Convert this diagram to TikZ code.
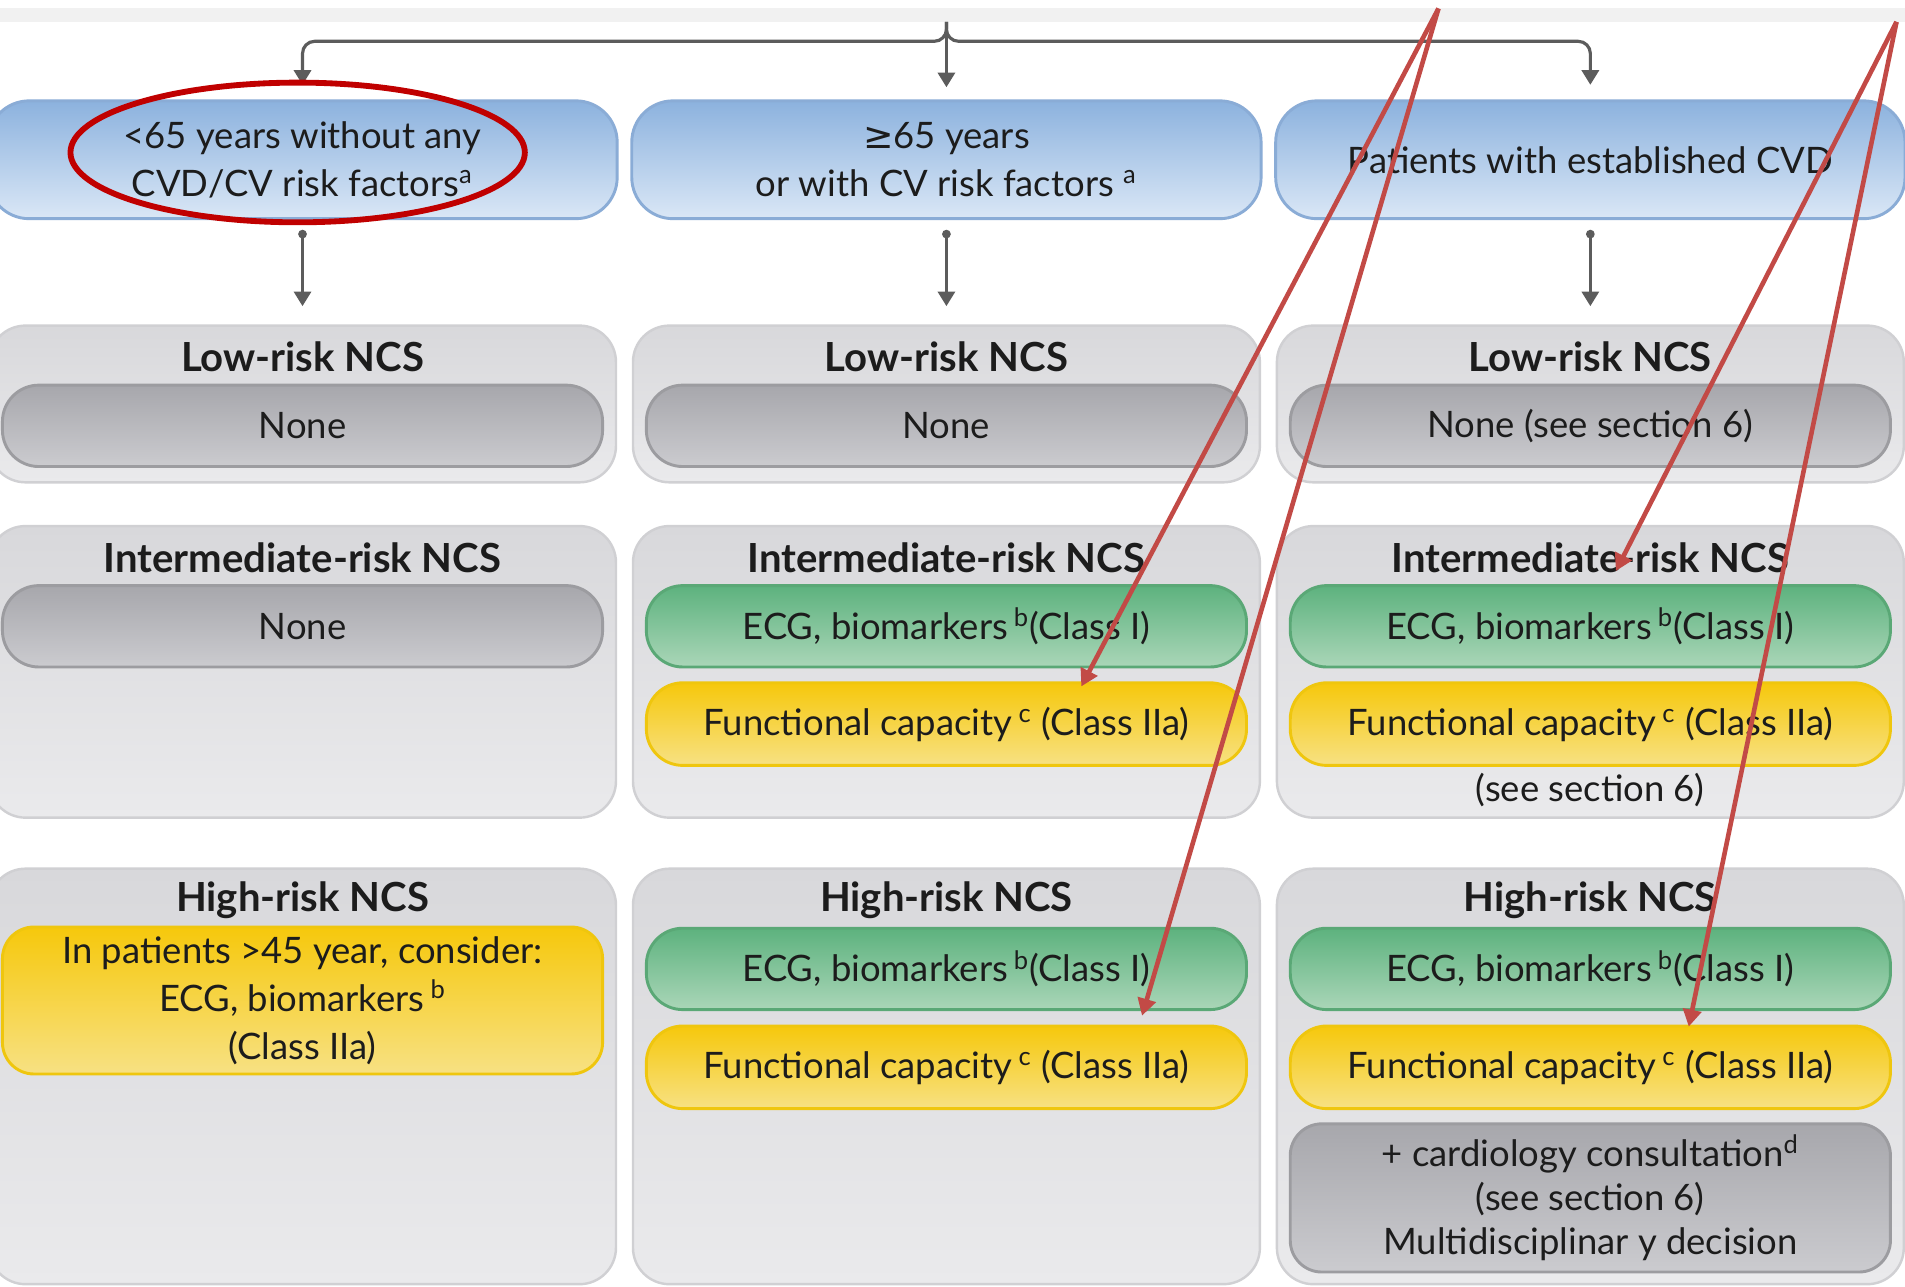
\documentclass[tikz,border=0pt]{standalone}
\usepackage{fontspec}
\setmainfont{Lato}
\newfontfamily\symfont{DejaVu Sans}
\usetikzlibrary{arrows.meta,shapes.geometric}
\definecolor{hdrTop}{HTML}{8CB2DE}
\definecolor{hdrBot}{HTML}{DAE7F6}
\definecolor{hdrLine}{HTML}{8AACD6}
\definecolor{panTop}{HTML}{D8D8DB}
\definecolor{panBot}{HTML}{EAEAEC}
\definecolor{panLine}{HTML}{D0D0D3}
\definecolor{gryTop}{HTML}{A7A7AC}
\definecolor{gryBot}{HTML}{CBCBCF}
\definecolor{gryLine}{HTML}{9C9CA0}
\definecolor{grnTop}{HTML}{5DB27E}
\definecolor{grnBot}{HTML}{AAD6B8}
\definecolor{grnLine}{HTML}{5AA876}
\definecolor{ylwTop}{HTML}{F6C80C}
\definecolor{ylwBot}{HTML}{F7E183}
\definecolor{ylwLine}{HTML}{EFC60E}
\definecolor{annRed}{HTML}{C24A46}
\definecolor{ellRed}{HTML}{C00000}
\definecolor{treeGray}{HTML}{5C5C5C}
\definecolor{txtCol}{HTML}{1C1C1C}
\definecolor{bandGray}{HTML}{F1F1F1}
\tikzset{
  basetext/.style={text=txtCol, align=center, font=\fontsize{15}{19.5}\selectfont},
  hdr/.style={basetext, draw=hdrLine, line width=1.2pt, top color=hdrTop, bottom color=hdrBot,
    rounded corners=17pt, minimum width=259pt, minimum height=48.5pt, inner sep=0pt},
  panel/.style={draw=panLine, line width=1pt, top color=panTop, bottom color=panBot,
    rounded corners=15pt, minimum width=258pt, inner sep=0pt},
  ttl/.style={text=txtCol, font=\fontsize{16.5}{20}\selectfont\bfseries, inner sep=0pt},
  pillgray/.style={basetext, draw=gryLine, line width=1.2pt, top color=gryTop, bottom color=gryBot,
    rounded corners=15pt, minimum width=247pt, minimum height=33.5pt, inner sep=0pt},
  pillgreen/.style={basetext, draw=grnLine, line width=1.2pt, top color=grnTop, bottom color=grnBot,
    rounded corners=15pt, minimum width=247pt, minimum height=33.5pt, inner sep=0pt},
  pillyellow/.style={basetext, draw=ylwLine, line width=1.2pt, top color=ylwTop, bottom color=ylwBot,
    rounded corners=15pt, minimum width=247pt, minimum height=34pt, inner sep=0pt},
  plain/.style={basetext, inner sep=0pt},
  tree/.style={draw=treeGray, line width=1.3pt},
  treetip/.style={-{Triangle[length=6pt,width=7pt]}},
  redarrow/.style={draw=annRed, line width=1.9pt, -{Triangle[length=7pt,width=7.5pt]}},
}
\begin{document}
\begin{tikzpicture}[x=0.5pt,y=-0.5pt]
\useasboundingbox (0,0) rectangle (1568,1059);
\fill[white] (0,0) rectangle (1568,1059);
\fill[bandGray] (0,7) rectangle (1568,18);

% headers
\node[hdr] (h1) at (249,131.5) {<65 years without any\\CVD/CV risk factors\textsuperscript{a}};
\node[hdr] (h2) at (779,131.5) {{\symfont ≥}65 years\\or with CV risk factors \textsuperscript{a}};
\node[hdr] (h3) at (1309,131.5) {Patients with established CVD};

% tree
\coordinate (treetop) at (779,18);
\coordinate (junc) at (779,34);
\draw[tree,treetip,shorten >=5pt] (treetop) -- (h2.north);
\draw[tree,treetip,rounded corners=5pt,shorten >=6pt] (treetop) -- (junc) -| (h1.north);
\draw[tree,treetip,rounded corners=5pt,shorten >=6pt] (treetop) -- (junc) -| (h3.north);

% row 1 panels
\node[panel,minimum height=64.5pt] (p11) at (249,332.5) {};
\node[panel,minimum height=64.5pt] (p12) at (779,332.5) {};
\node[panel,minimum height=64.5pt] (p13) at (1309,332.5) {};
\node[ttl] (t11) at (249,294) {Low-risk NCS};
\node[ttl] (t12) at (779,294) {Low-risk NCS};
\node[ttl] (t13) at (1309,294) {Low-risk NCS};
\node[pillgray] (n11) at (249,350.5) {None};
\node[pillgray] (n12) at (779,350.5) {None};
\node[pillgray] (n13) at (1309,350.5) {None (see section 6)};

% header -> panel connectors
\foreach \i in {1,2,3}{
  \draw[tree,{Circle[length=3.5pt]}-{Triangle[length=6pt,width=7pt]},shorten <=4pt,shorten >=7.5pt] (h\i.south) -- (p1\i.north);
}

% row 2 panels
\node[panel,minimum height=120pt] (p21) at (249,553) {};
\node[panel,minimum height=120pt] (p22) at (779,553) {};
\node[panel,minimum height=120pt] (p23) at (1309,553) {};
\node[ttl] (t21) at (249,459) {Intermediate-risk NCS};
\node[ttl] (t22) at (779,459) {Intermediate-risk NCS};
\node[ttl] (t23) at (1309,459) {Intermediate-risk NCS};
\node[pillgray] (n21) at (249,515.5) {None};
\node[pillgreen] (g22) at (779,515.5) {ECG, biomarkers\,\textsuperscript{b}(Class I)};
\node[pillgreen] (g23) at (1309,515.5) {ECG, biomarkers\,\textsuperscript{b}(Class I)};
\node[pillyellow] (y22) at (779,596) {Functional capacity\,\textsuperscript{c} (Class IIa)};
\node[pillyellow] (y23) at (1309,596) {Functional capacity\,\textsuperscript{c} (Class IIa)};
\node[plain] (s23) at (1309,650) {(see section 6)};

% row 3 panels
\node[panel,minimum height=171pt] (p31) at (249,886) {};
\node[panel,minimum height=171pt] (p32) at (779,886) {};
\node[panel,minimum height=171pt] (p33) at (1309,886) {};
\node[ttl] (t31) at (249,741) {High-risk NCS};
\node[ttl] (t32) at (779,741) {High-risk NCS};
\node[ttl] (t33) at (1309,741) {High-risk NCS};
\node[pillyellow,rounded corners=13pt,minimum height=60.5pt,font=\fontsize{15}{19.75}\selectfont] (y31) at (249,823.5)
  {In patients >45 year, consider:\\ECG, biomarkers\,\textsuperscript{b}\\(Class IIa)};
\node[pillgreen] (g32) at (779,797.5) {ECG, biomarkers\,\textsuperscript{b}(Class I)};
\node[pillgreen] (g33) at (1309,797.5) {ECG, biomarkers\,\textsuperscript{b}(Class I)};
\node[pillyellow] (y32) at (779,878.5) {Functional capacity\,\textsuperscript{c} (Class IIa)};
\node[pillyellow] (y33) at (1309,878.5) {Functional capacity\,\textsuperscript{c} (Class IIa)};
\node[pillgray,rounded corners=13pt,minimum height=61pt,font=\fontsize{15}{18.25}\selectfont] (c33) at (1309,986)
  {+ cardiology consultation\textsuperscript{d}\\(see section 6)\\Multidisciplinar y decision};

% annotations
\node[draw=ellRed,ellipse,line width=2.4pt,minimum width=187pt,minimum height=57.5pt,inner sep=0pt] (ring) at (245,125.5) {};
\coordinate (srcA) at (1184,7);
\coordinate (srcB) at (1561,18);
\coordinate (tipA1) at (890,565);
\coordinate (tipA2) at (940,836);
\coordinate (tipB1) at (1330,470);
\coordinate (tipB2) at (1390,845);
\draw[redarrow] (srcA) -- (tipA1);
\draw[redarrow] (srcA) -- (tipA2);
\draw[redarrow] (srcB) -- (tipB1);
\draw[redarrow] (srcB) -- (tipB2);
\end{tikzpicture}
\end{document}
